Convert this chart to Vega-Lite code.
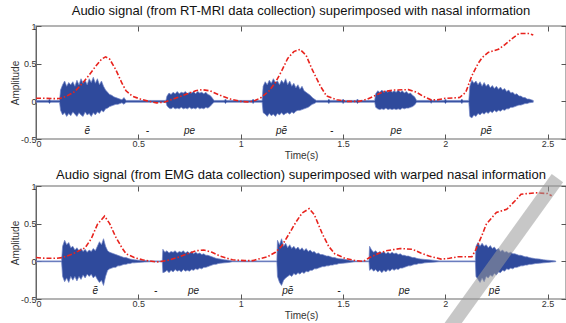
{
  "$schema": "https://vega.github.io/schema/vega-lite/v6.json",
  "padding": {"left": 9, "top": 4, "right": 0, "bottom": 0},
  "spacing": 7,
  "datasets": {
    "w1": [
      {"t":0,"h":0.012,"l":-0.012},{"t":0.06,"h":0.012,"l":-0.012},{"t":0.066,"h":0.03,"l":-0.03},{"t":0.072,"h":0.012,"l":-0.012},{"t":0.115,"h":0.012,"l":-0.012},
      {"t":0.12,"h":0.15,"l":-0.12},{"t":0.13,"h":0.22,"l":-0.18},{"t":0.14,"h":0.27,"l":-0.15},{"t":0.15,"h":0.2,"l":-0.2},{"t":0.16,"h":0.25,"l":-0.16},{"t":0.17,"h":0.22,"l":-0.19},{"t":0.18,"h":0.26,"l":-0.14},{"t":0.19,"h":0.2,"l":-0.17},{"t":0.2,"h":0.28,"l":-0.2},{"t":0.21,"h":0.22,"l":-0.15},{"t":0.22,"h":0.3,"l":-0.18},{"t":0.23,"h":0.24,"l":-0.2},{"t":0.24,"h":0.28,"l":-0.14},{"t":0.25,"h":0.22,"l":-0.18},{"t":0.26,"h":0.3,"l":-0.16},{"t":0.27,"h":0.25,"l":-0.2},{"t":0.28,"h":0.32,"l":-0.15},{"t":0.29,"h":0.24,"l":-0.18},{"t":0.3,"h":0.3,"l":-0.14},{"t":0.31,"h":0.22,"l":-0.16},{"t":0.32,"h":0.27,"l":-0.12},{"t":0.33,"h":0.2,"l":-0.14},{"t":0.34,"h":0.15,"l":-0.1},{"t":0.35,"h":0.12,"l":-0.09},{"t":0.36,"h":0.09,"l":-0.07},{"t":0.37,"h":0.08,"l":-0.06},{"t":0.38,"h":0.06,"l":-0.05},{"t":0.39,"h":0.05,"l":-0.04},{"t":0.4,"h":0.04,"l":-0.04},{"t":0.41,"h":0.03,"l":-0.03},{"t":0.42,"h":0.02,"l":-0.02},{"t":0.43,"h":0.05,"l":-0.04},{"t":0.44,"h":0.012,"l":-0.012},
      {"t":0.635,"h":0.012,"l":-0.012},{"t":0.64,"h":0.07,"l":-0.06},{"t":0.65,"h":0.11,"l":-0.09},{"t":0.66,"h":0.09,"l":-0.1},{"t":0.67,"h":0.12,"l":-0.08},{"t":0.68,"h":0.1,"l":-0.1},{"t":0.69,"h":0.13,"l":-0.09},{"t":0.7,"h":0.1,"l":-0.1},{"t":0.71,"h":0.12,"l":-0.08},{"t":0.72,"h":0.11,"l":-0.1},{"t":0.73,"h":0.13,"l":-0.09},{"t":0.74,"h":0.1,"l":-0.1},{"t":0.75,"h":0.12,"l":-0.08},{"t":0.76,"h":0.11,"l":-0.1},{"t":0.77,"h":0.13,"l":-0.09},{"t":0.78,"h":0.1,"l":-0.1},{"t":0.79,"h":0.13,"l":-0.08},{"t":0.8,"h":0.11,"l":-0.1},{"t":0.81,"h":0.12,"l":-0.09},{"t":0.82,"h":0.1,"l":-0.1},{"t":0.83,"h":0.12,"l":-0.08},{"t":0.84,"h":0.09,"l":-0.09},{"t":0.85,"h":0.08,"l":-0.07},{"t":0.86,"h":0.05,"l":-0.04},{"t":0.87,"h":0.012,"l":-0.012},
      {"t":0.92,"h":0.012,"l":-0.012},{"t":0.926,"h":0.03,"l":-0.03},{"t":0.932,"h":0.012,"l":-0.012},{"t":1.055,"h":0.012,"l":-0.012},{"t":1.061,"h":0.03,"l":-0.03},{"t":1.067,"h":0.012,"l":-0.012},{"t":1.105,"h":0.012,"l":-0.012},
      {"t":1.11,"h":0.2,"l":-0.15},{"t":1.12,"h":0.26,"l":-0.17},{"t":1.13,"h":0.22,"l":-0.2},{"t":1.14,"h":0.28,"l":-0.16},{"t":1.15,"h":0.24,"l":-0.19},{"t":1.16,"h":0.3,"l":-0.17},{"t":1.17,"h":0.25,"l":-0.2},{"t":1.18,"h":0.27,"l":-0.16},{"t":1.19,"h":0.22,"l":-0.18},{"t":1.2,"h":0.28,"l":-0.15},{"t":1.21,"h":0.24,"l":-0.18},{"t":1.22,"h":0.3,"l":-0.16},{"t":1.23,"h":0.22,"l":-0.15},{"t":1.24,"h":0.27,"l":-0.17},{"t":1.25,"h":0.2,"l":-0.14},{"t":1.26,"h":0.24,"l":-0.16},{"t":1.27,"h":0.18,"l":-0.13},{"t":1.28,"h":0.22,"l":-0.12},{"t":1.29,"h":0.16,"l":-0.12},{"t":1.3,"h":0.2,"l":-0.11},{"t":1.31,"h":0.14,"l":-0.1},{"t":1.32,"h":0.12,"l":-0.09},{"t":1.33,"h":0.1,"l":-0.08},{"t":1.34,"h":0.08,"l":-0.06},{"t":1.35,"h":0.05,"l":-0.04},{"t":1.36,"h":0.03,"l":-0.03},{"t":1.37,"h":0.012,"l":-0.012},
      {"t":1.425,"h":0.012,"l":-0.012},{"t":1.431,"h":0.03,"l":-0.03},{"t":1.437,"h":0.012,"l":-0.012},{"t":1.495,"h":0.012,"l":-0.012},{"t":1.501,"h":0.03,"l":-0.03},{"t":1.507,"h":0.012,"l":-0.012},{"t":1.565,"h":0.012,"l":-0.012},{"t":1.571,"h":0.03,"l":-0.03},{"t":1.577,"h":0.012,"l":-0.012},{"t":1.655,"h":0.012,"l":-0.012},
      {"t":1.66,"h":0.1,"l":-0.08},{"t":1.67,"h":0.14,"l":-0.1},{"t":1.68,"h":0.12,"l":-0.11},{"t":1.69,"h":0.15,"l":-0.1},{"t":1.7,"h":0.12,"l":-0.11},{"t":1.71,"h":0.14,"l":-0.09},{"t":1.72,"h":0.12,"l":-0.11},{"t":1.73,"h":0.15,"l":-0.1},{"t":1.74,"h":0.12,"l":-0.11},{"t":1.75,"h":0.14,"l":-0.1},{"t":1.76,"h":0.12,"l":-0.11},{"t":1.77,"h":0.15,"l":-0.1},{"t":1.78,"h":0.12,"l":-0.11},{"t":1.79,"h":0.14,"l":-0.09},{"t":1.8,"h":0.11,"l":-0.1},{"t":1.81,"h":0.13,"l":-0.09},{"t":1.82,"h":0.1,"l":-0.09},{"t":1.83,"h":0.11,"l":-0.08},{"t":1.84,"h":0.08,"l":-0.07},{"t":1.85,"h":0.06,"l":-0.05},{"t":1.86,"h":0.012,"l":-0.012},
      {"t":1.925,"h":0.012,"l":-0.012},{"t":1.931,"h":0.025,"l":-0.025},{"t":1.937,"h":0.012,"l":-0.012},{"t":1.995,"h":0.012,"l":-0.012},{"t":2.001,"h":0.03,"l":-0.03},{"t":2.007,"h":0.012,"l":-0.012},{"t":2.075,"h":0.012,"l":-0.012},{"t":2.081,"h":0.03,"l":-0.03},{"t":2.087,"h":0.012,"l":-0.012},{"t":2.115,"h":0.012,"l":-0.012},
      {"t":2.12,"h":0.2,"l":-0.2},{"t":2.13,"h":0.28,"l":-0.22},{"t":2.14,"h":0.24,"l":-0.18},{"t":2.15,"h":0.27,"l":-0.2},{"t":2.16,"h":0.22,"l":-0.16},{"t":2.17,"h":0.26,"l":-0.18},{"t":2.18,"h":0.2,"l":-0.15},{"t":2.19,"h":0.25,"l":-0.17},{"t":2.2,"h":0.2,"l":-0.14},{"t":2.21,"h":0.23,"l":-0.16},{"t":2.22,"h":0.18,"l":-0.13},{"t":2.23,"h":0.21,"l":-0.15},{"t":2.24,"h":0.17,"l":-0.12},{"t":2.25,"h":0.2,"l":-0.14},{"t":2.26,"h":0.16,"l":-0.12},{"t":2.27,"h":0.19,"l":-0.13},{"t":2.28,"h":0.15,"l":-0.11},{"t":2.29,"h":0.17,"l":-0.12},{"t":2.3,"h":0.13,"l":-0.1},{"t":2.31,"h":0.15,"l":-0.1},{"t":2.32,"h":0.11,"l":-0.08},{"t":2.33,"h":0.12,"l":-0.08},{"t":2.34,"h":0.09,"l":-0.07},{"t":2.35,"h":0.1,"l":-0.06},{"t":2.36,"h":0.07,"l":-0.05},{"t":2.37,"h":0.07,"l":-0.05},{"t":2.38,"h":0.05,"l":-0.04},{"t":2.39,"h":0.05,"l":-0.03},{"t":2.4,"h":0.03,"l":-0.03},{"t":2.41,"h":0.03,"l":-0.02},{"t":2.42,"h":0.02,"l":-0.015},{"t":2.43,"h":0.012,"l":-0.012}
    ],
    "w2": [
      {"t":0,"h":0.006,"l":-0.006},{"t":0.125,"h":0.006,"l":-0.006},
      {"t":0.13,"h":0.2,"l":-0.2},{"t":0.14,"h":0.28,"l":-0.27},{"t":0.15,"h":0.22,"l":-0.22},{"t":0.16,"h":0.25,"l":-0.28},{"t":0.17,"h":0.18,"l":-0.2},{"t":0.18,"h":0.2,"l":-0.25},{"t":0.19,"h":0.15,"l":-0.2},{"t":0.2,"h":0.18,"l":-0.26},{"t":0.21,"h":0.14,"l":-0.2},{"t":0.22,"h":0.17,"l":-0.24},{"t":0.23,"h":0.13,"l":-0.18},{"t":0.24,"h":0.16,"l":-0.22},{"t":0.25,"h":0.12,"l":-0.17},{"t":0.26,"h":0.15,"l":-0.2},{"t":0.27,"h":0.13,"l":-0.17},{"t":0.28,"h":0.17,"l":-0.22},{"t":0.29,"h":0.14,"l":-0.19},{"t":0.3,"h":0.2,"l":-0.24},{"t":0.31,"h":0.26,"l":-0.28},{"t":0.32,"h":0.22,"l":-0.25},{"t":0.33,"h":0.3,"l":-0.32},{"t":0.34,"h":0.2,"l":-0.2},{"t":0.35,"h":0.14,"l":-0.12},{"t":0.36,"h":0.12,"l":-0.1},{"t":0.37,"h":0.11,"l":-0.09},{"t":0.38,"h":0.1,"l":-0.08},{"t":0.39,"h":0.09,"l":-0.08},{"t":0.4,"h":0.08,"l":-0.06},{"t":0.41,"h":0.07,"l":-0.06},{"t":0.42,"h":0.06,"l":-0.05},{"t":0.43,"h":0.05,"l":-0.04},{"t":0.44,"h":0.05,"l":-0.04},{"t":0.45,"h":0.04,"l":-0.03},{"t":0.46,"h":0.03,"l":-0.03},{"t":0.47,"h":0.025,"l":-0.02},{"t":0.48,"h":0.02,"l":-0.02},{"t":0.5,"h":0.015,"l":-0.015},{"t":0.53,"h":0.01,"l":-0.01},{"t":0.56,"h":0.006,"l":-0.006},
      {"t":0.617,"h":0.006,"l":-0.006},{"t":0.62,"h":0.16,"l":-0.15},{"t":0.63,"h":0.12,"l":-0.14},{"t":0.64,"h":0.14,"l":-0.12},{"t":0.65,"h":0.11,"l":-0.15},{"t":0.66,"h":0.13,"l":-0.12},{"t":0.67,"h":0.12,"l":-0.14},{"t":0.68,"h":0.14,"l":-0.11},{"t":0.69,"h":0.11,"l":-0.13},{"t":0.7,"h":0.13,"l":-0.12},{"t":0.71,"h":0.12,"l":-0.14},{"t":0.72,"h":0.14,"l":-0.11},{"t":0.73,"h":0.11,"l":-0.13},{"t":0.74,"h":0.13,"l":-0.12},{"t":0.75,"h":0.11,"l":-0.13},{"t":0.76,"h":0.13,"l":-0.11},{"t":0.77,"h":0.1,"l":-0.12},{"t":0.78,"h":0.12,"l":-0.1},{"t":0.79,"h":0.1,"l":-0.11},{"t":0.8,"h":0.11,"l":-0.09},{"t":0.81,"h":0.09,"l":-0.1},{"t":0.82,"h":0.1,"l":-0.08},{"t":0.83,"h":0.08,"l":-0.08},{"t":0.84,"h":0.08,"l":-0.07},{"t":0.85,"h":0.07,"l":-0.06},{"t":0.86,"h":0.06,"l":-0.05},{"t":0.87,"h":0.05,"l":-0.04},{"t":0.88,"h":0.04,"l":-0.04},{"t":0.89,"h":0.035,"l":-0.03},{"t":0.9,"h":0.03,"l":-0.025},{"t":0.92,"h":0.02,"l":-0.02},{"t":0.94,"h":0.015,"l":-0.015},{"t":0.96,"h":0.006,"l":-0.006},
      {"t":1.177,"h":0.006,"l":-0.006},{"t":1.18,"h":0.28,"l":-0.2},{"t":1.19,"h":0.22,"l":-0.28},{"t":1.2,"h":0.3,"l":-0.32},{"t":1.21,"h":0.2,"l":-0.25},{"t":1.22,"h":0.24,"l":-0.22},{"t":1.23,"h":0.18,"l":-0.2},{"t":1.24,"h":0.22,"l":-0.18},{"t":1.25,"h":0.17,"l":-0.2},{"t":1.26,"h":0.2,"l":-0.16},{"t":1.27,"h":0.16,"l":-0.18},{"t":1.28,"h":0.19,"l":-0.15},{"t":1.29,"h":0.15,"l":-0.17},{"t":1.3,"h":0.18,"l":-0.14},{"t":1.31,"h":0.14,"l":-0.16},{"t":1.32,"h":0.17,"l":-0.13},{"t":1.33,"h":0.13,"l":-0.14},{"t":1.34,"h":0.15,"l":-0.12},{"t":1.35,"h":0.12,"l":-0.12},{"t":1.36,"h":0.13,"l":-0.1},{"t":1.37,"h":0.1,"l":-0.1},{"t":1.38,"h":0.11,"l":-0.09},{"t":1.39,"h":0.09,"l":-0.08},{"t":1.4,"h":0.09,"l":-0.07},{"t":1.41,"h":0.08,"l":-0.07},{"t":1.42,"h":0.07,"l":-0.06},{"t":1.43,"h":0.07,"l":-0.06},{"t":1.44,"h":0.06,"l":-0.05},{"t":1.45,"h":0.05,"l":-0.05},{"t":1.46,"h":0.05,"l":-0.04},{"t":1.47,"h":0.04,"l":-0.04},{"t":1.48,"h":0.035,"l":-0.03},{"t":1.5,"h":0.03,"l":-0.025},{"t":1.52,"h":0.02,"l":-0.02},{"t":1.54,"h":0.012,"l":-0.012},{"t":1.56,"h":0.006,"l":-0.006},
      {"t":1.627,"h":0.006,"l":-0.006},{"t":1.63,"h":0.2,"l":-0.12},{"t":1.64,"h":0.15,"l":-0.1},{"t":1.65,"h":0.12,"l":-0.13},{"t":1.66,"h":0.14,"l":-0.11},{"t":1.67,"h":0.11,"l":-0.14},{"t":1.68,"h":0.13,"l":-0.12},{"t":1.69,"h":0.11,"l":-0.15},{"t":1.7,"h":0.13,"l":-0.12},{"t":1.71,"h":0.1,"l":-0.14},{"t":1.72,"h":0.12,"l":-0.11},{"t":1.73,"h":0.1,"l":-0.13},{"t":1.74,"h":0.12,"l":-0.1},{"t":1.75,"h":0.1,"l":-0.12},{"t":1.76,"h":0.11,"l":-0.1},{"t":1.77,"h":0.09,"l":-0.11},{"t":1.78,"h":0.1,"l":-0.09},{"t":1.79,"h":0.08,"l":-0.09},{"t":1.8,"h":0.08,"l":-0.08},{"t":1.81,"h":0.07,"l":-0.07},{"t":1.82,"h":0.07,"l":-0.06},{"t":1.83,"h":0.06,"l":-0.06},{"t":1.84,"h":0.05,"l":-0.05},{"t":1.85,"h":0.05,"l":-0.04},{"t":1.86,"h":0.04,"l":-0.04},{"t":1.87,"h":0.035,"l":-0.03},{"t":1.88,"h":0.03,"l":-0.03},{"t":1.9,"h":0.025,"l":-0.02},{"t":1.92,"h":0.02,"l":-0.015},{"t":1.94,"h":0.015,"l":-0.012},{"t":1.97,"h":0.006,"l":-0.006},
      {"t":2.147,"h":0.006,"l":-0.006},{"t":2.15,"h":0.2,"l":-0.2},{"t":2.16,"h":0.25,"l":-0.24},{"t":2.17,"h":0.2,"l":-0.28},{"t":2.18,"h":0.24,"l":-0.22},{"t":2.19,"h":0.2,"l":-0.27},{"t":2.2,"h":0.22,"l":-0.2},{"t":2.21,"h":0.18,"l":-0.22},{"t":2.22,"h":0.21,"l":-0.18},{"t":2.23,"h":0.17,"l":-0.2},{"t":2.24,"h":0.19,"l":-0.16},{"t":2.25,"h":0.15,"l":-0.18},{"t":2.26,"h":0.17,"l":-0.14},{"t":2.27,"h":0.13,"l":-0.15},{"t":2.28,"h":0.15,"l":-0.12},{"t":2.29,"h":0.12,"l":-0.13},{"t":2.3,"h":0.13,"l":-0.1},{"t":2.31,"h":0.11,"l":-0.11},{"t":2.32,"h":0.12,"l":-0.09},{"t":2.33,"h":0.1,"l":-0.1},{"t":2.34,"h":0.1,"l":-0.08},{"t":2.35,"h":0.09,"l":-0.08},{"t":2.36,"h":0.08,"l":-0.07},{"t":2.37,"h":0.08,"l":-0.06},{"t":2.38,"h":0.07,"l":-0.06},{"t":2.39,"h":0.06,"l":-0.05},{"t":2.4,"h":0.06,"l":-0.05},{"t":2.41,"h":0.05,"l":-0.04},{"t":2.42,"h":0.045,"l":-0.04},{"t":2.43,"h":0.04,"l":-0.035},{"t":2.44,"h":0.035,"l":-0.03},{"t":2.46,"h":0.03,"l":-0.025},{"t":2.48,"h":0.02,"l":-0.02},{"t":2.5,"h":0.015,"l":-0.015},{"t":2.52,"h":0.01,"l":-0.01},{"t":2.54,"h":0.005,"l":-0.005}
    ],
    "n1": [
      {"t":0,"v":0.04},{"t":0.05,"v":0.04},{"t":0.1,"v":0.035},{"t":0.12,"v":0.04},{"t":0.15,"v":0.07},{"t":0.19,"v":0.13},{"t":0.23,"v":0.25},{"t":0.26,"v":0.35},{"t":0.29,"v":0.46},{"t":0.32,"v":0.56},{"t":0.34,"v":0.59},{"t":0.36,"v":0.56},{"t":0.39,"v":0.42},{"t":0.42,"v":0.24},{"t":0.44,"v":0.14},{"t":0.47,"v":0.07},{"t":0.51,"v":0.03},{"t":0.55,"v":0.0},{"t":0.59,"v":-0.02},{"t":0.63,"v":-0.01},{"t":0.68,"v":0.04},{"t":0.73,"v":0.09},{"t":0.78,"v":0.14},{"t":0.81,"v":0.155},{"t":0.85,"v":0.14},{"t":0.9,"v":0.08},{"t":0.95,"v":0.03},{"t":1.0,"v":0.0},{"t":1.04,"v":-0.01},{"t":1.07,"v":0.01},{"t":1.1,"v":0.05},{"t":1.14,"v":0.14},{"t":1.17,"v":0.25},{"t":1.2,"v":0.4},{"t":1.23,"v":0.57},{"t":1.26,"v":0.66},{"t":1.29,"v":0.69},{"t":1.32,"v":0.61},{"t":1.35,"v":0.42},{"t":1.39,"v":0.2},{"t":1.42,"v":0.07},{"t":1.47,"v":0.02},{"t":1.52,"v":0.0},{"t":1.58,"v":0.0},{"t":1.62,"v":0.03},{"t":1.66,"v":0.08},{"t":1.7,"v":0.13},{"t":1.75,"v":0.15},{"t":1.82,"v":0.155},{"t":1.86,"v":0.12},{"t":1.89,"v":0.07},{"t":1.93,"v":0.02},{"t":1.96,"v":0.02},{"t":2.0,"v":0.04},{"t":2.07,"v":0.05},{"t":2.1,"v":0.12},{"t":2.13,"v":0.34},{"t":2.16,"v":0.5},{"t":2.18,"v":0.58},{"t":2.21,"v":0.65},{"t":2.26,"v":0.69},{"t":2.29,"v":0.75},{"t":2.33,"v":0.84},{"t":2.36,"v":0.9},{"t":2.41,"v":0.9},{"t":2.43,"v":0.88}
    ],
    "n2": [
      {"t":0,"v":0.05},{"t":0.05,"v":0.04},{"t":0.1,"v":0.04},{"t":0.13,"v":0.05},{"t":0.18,"v":0.1},{"t":0.24,"v":0.18},{"t":0.27,"v":0.3},{"t":0.3,"v":0.49},{"t":0.335,"v":0.6},{"t":0.36,"v":0.5},{"t":0.39,"v":0.32},{"t":0.42,"v":0.18},{"t":0.44,"v":0.1},{"t":0.48,"v":0.05},{"t":0.52,"v":0.02},{"t":0.59,"v":-0.01},{"t":0.64,"v":0.01},{"t":0.69,"v":0.05},{"t":0.74,"v":0.1},{"t":0.78,"v":0.14},{"t":0.82,"v":0.15},{"t":0.86,"v":0.12},{"t":0.9,"v":0.07},{"t":0.96,"v":0.02},{"t":1.02,"v":0.01},{"t":1.06,"v":0.01},{"t":1.1,"v":0.04},{"t":1.13,"v":0.06},{"t":1.17,"v":0.12},{"t":1.2,"v":0.2},{"t":1.24,"v":0.38},{"t":1.27,"v":0.52},{"t":1.3,"v":0.64},{"t":1.335,"v":0.7},{"t":1.36,"v":0.62},{"t":1.4,"v":0.36},{"t":1.43,"v":0.2},{"t":1.46,"v":0.1},{"t":1.51,"v":0.04},{"t":1.56,"v":0.01},{"t":1.6,"v":0.0},{"t":1.63,"v":0.05},{"t":1.67,"v":0.1},{"t":1.71,"v":0.14},{"t":1.78,"v":0.17},{"t":1.84,"v":0.16},{"t":1.88,"v":0.11},{"t":1.92,"v":0.07},{"t":1.98,"v":0.03},{"t":2.02,"v":0.04},{"t":2.06,"v":0.06},{"t":2.13,"v":0.06},{"t":2.15,"v":0.16},{"t":2.18,"v":0.35},{"t":2.2,"v":0.49},{"t":2.25,"v":0.65},{"t":2.3,"v":0.69},{"t":2.34,"v":0.8},{"t":2.37,"v":0.89},{"t":2.44,"v":0.91},{"t":2.5,"v":0.9},{"t":2.52,"v":0.87}
    ],
    "lab1": [
      {"t":0.25,"y":-0.44,"s":"ẽ"},{"t":0.545,"y":-0.44,"s":"-"},{"t":0.75,"y":-0.44,"s":"pe"},{"t":1.2,"y":-0.44,"s":"pẽ"},{"t":1.445,"y":-0.44,"s":"-"},{"t":1.76,"y":-0.44,"s":"pe"},{"t":2.2,"y":-0.44,"s":"pẽ"}
    ],
    "lab2": [
      {"t":0.29,"y":-0.44,"s":"ẽ"},{"t":0.585,"y":-0.44,"s":"-"},{"t":0.77,"y":-0.44,"s":"pe"},{"t":1.23,"y":-0.44,"s":"pẽ"},{"t":1.48,"y":-0.44,"s":"-"},{"t":1.8,"y":-0.44,"s":"pe"},{"t":2.24,"y":-0.44,"s":"pẽ"}
    ],
    "stripe": [
      {"t":2.548,"v":1.105,"t2":1.991,"v2":-1.0}
    ]
  },
  "vconcat": [
    {
      "width": 530, "height": 113,
      "title": {"text": "Audio signal (from RT-MRI data collection) superimposed with nasal information"},
      "layer": [
        {"data": {"name": "w1"}, "mark": {"type": "area", "color": "#2f4a9c", "stroke": "#7083c4", "strokeWidth": 0.7},
         "encoding": {
           "x": {"field": "t", "type": "quantitative", "scale": {"domain": [0, 2.59], "nice": false, "zero": false},
                 "axis": {"orient": "bottom", "title": "Time(s)", "values": [0, 0.5, 1, 1.5, 2, 2.5], "labelExpr": "'' + datum.value"}},
           "y": {"field": "h", "type": "quantitative", "scale": {"domain": [-0.5, 1], "nice": false, "zero": false},
                 "axis": {"orient": "left", "title": "Amplitude", "values": [-0.5, 0, 0.5, 1], "labelExpr": "'' + datum.value", "domain": true, "domainColor": "#666"}},
           "y2": {"field": "l"}}},
        {"data": {"name": "n1"}, "mark": {"type": "line", "color": "#e8231d", "strokeWidth": 1.6, "strokeDash": [5, 2, 1.5, 2]},
         "encoding": {
           "x": {"field": "t", "type": "quantitative", "axis": {"orient": "top", "labels": false, "title": null, "values": [0, 0.5, 1, 1.5, 2, 2.5]}},
           "y": {"field": "v", "type": "quantitative", "axis": {"orient": "right", "labels": false, "title": null, "values": [-0.5, 0, 0.5, 1]}}}},
        {"data": {"name": "lab1"}, "mark": {"type": "text", "fontStyle": "italic", "fontSize": 10, "baseline": "alphabetic", "color": "#222"},
         "encoding": {
           "x": {"field": "t", "type": "quantitative", "axis": null},
           "y": {"field": "y", "type": "quantitative", "axis": null},
           "text": {"field": "s"}}}
      ],
      "resolve": {"axis": {"x": "independent", "y": "independent"}}
    },
    {
      "width": 530, "height": 113,
      "title": {"text": "Audio signal (from EMG data collection) superimposed with warped nasal information", "offset": -11},
      "layer": [
        {"data": {"name": "w2"}, "mark": {"type": "area", "color": "#2f4a9c", "stroke": "#7083c4", "strokeWidth": 0.7},
         "encoding": {
           "x": {"field": "t", "type": "quantitative", "scale": {"domain": [0, 2.59], "nice": false, "zero": false},
                 "axis": {"orient": "bottom", "title": "Time(s)", "values": [0, 0.5, 1, 1.5, 2, 2.5], "labelExpr": "'' + datum.value"}},
           "y": {"field": "h", "type": "quantitative", "scale": {"domain": [-0.5, 1], "nice": false, "zero": false},
                 "axis": {"orient": "left", "title": "Amplitude", "values": [-0.5, 0, 0.5, 1], "labelExpr": "'' + datum.value", "domain": true, "domainColor": "#666"}},
           "y2": {"field": "l"}}},
        {"data": {"name": "n2"}, "mark": {"type": "line", "color": "#e8231d", "strokeWidth": 1.6, "strokeDash": [5, 2, 1.5, 2]},
         "encoding": {
           "x": {"field": "t", "type": "quantitative", "axis": {"orient": "top", "labels": false, "title": null, "values": [0, 0.5, 1, 1.5, 2, 2.5]}},
           "y": {"field": "v", "type": "quantitative", "axis": {"orient": "right", "labels": false, "title": null, "values": [-0.5, 0, 0.5, 1]}}}},
        {"data": {"name": "lab2"}, "mark": {"type": "text", "fontStyle": "italic", "fontSize": 10, "baseline": "alphabetic", "color": "#222"},
         "encoding": {
           "x": {"field": "t", "type": "quantitative", "axis": null},
           "y": {"field": "y", "type": "quantitative", "axis": null},
           "text": {"field": "s"}}},
        {"data": {"name": "stripe"}, "mark": {"type": "rule", "color": "#999999", "opacity": 0.55, "strokeWidth": 14, "strokeCap": "butt", "clip": false},
         "encoding": {
           "x": {"field": "t", "type": "quantitative", "axis": null},
           "y": {"field": "v", "type": "quantitative", "axis": null},
           "x2": {"field": "t2"},
           "y2": {"field": "v2"}}}
      ],
      "resolve": {"axis": {"x": "independent", "y": "independent"}}
    }
  ],
  "config": {
    "font": "Liberation Sans",
    "view": {"stroke": "#9a9a9a", "strokeWidth": 1.5},
    "axis": {"grid": false, "domain": false, "tickColor": "#555", "tickSize": -5, "tickWidth": 1, "labelFontSize": 9, "labelColor": "#333", "titleFontSize": 10, "titleFontWeight": "normal", "titleColor": "#333"},
    "axisX": {"labelPadding": 5, "titlePadding": 2},
    "axisY": {"labelPadding": 5, "titlePadding": 0},
    "title": {"fontSize": 13, "fontWeight": "normal", "color": "#111", "offset": 4, "font": "Liberation Sans"}
  }
}
